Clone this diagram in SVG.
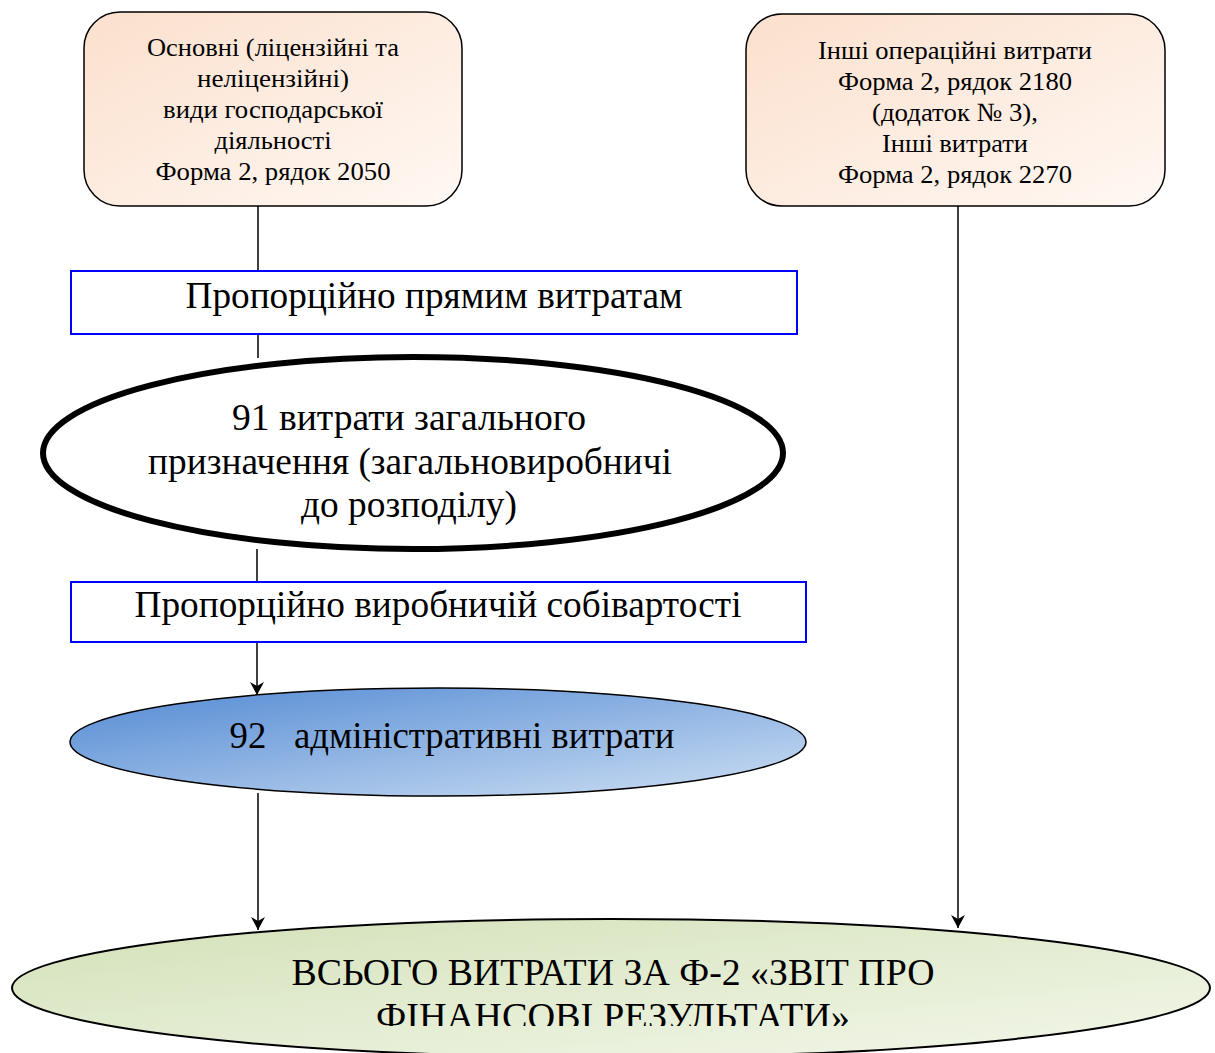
<svg xmlns="http://www.w3.org/2000/svg" width="1215" height="1053" viewBox="0 0 1215 1053">
<style>
  .t { font-family: "Liberation Serif", "Times New Roman", serif; fill: #000; text-anchor: middle; }
  .s26 { font-size: 26px; }
  .s37 { font-size: 37px; }
  .box { stroke: #000; stroke-width: 1.5; }
  .brect { fill: #fff; stroke: #0000ff; stroke-width: 2; }
  .conn { stroke: #000; stroke-width: 1.5; fill: none; }
</style>
<defs>
  <linearGradient id="peach" x1="0" y1="0" x2="1" y2="1">
    <stop offset="0" stop-color="#fbe0cd"/>
    <stop offset="1" stop-color="#fff8f3"/>
  </linearGradient>
  <linearGradient id="blue" x1="0" y1="0" x2="1" y2="1">
    <stop offset="0" stop-color="#5289d3"/>
    <stop offset="1" stop-color="#cddff3"/>
  </linearGradient>
  <linearGradient id="green" x1="0" y1="0" x2="1" y2="1">
    <stop offset="0" stop-color="#d3e1b8"/>
    <stop offset="1" stop-color="#f3f7ea"/>
  </linearGradient>
  <marker id="arr" markerWidth="14" markerHeight="14" refX="13" refY="7" orient="auto" markerUnits="userSpaceOnUse">
    <path d="M0,0 L13,7 L0,14 L4,7 Z" fill="#000"/>
  </marker>
  <clipPath id="clipBottom">
    <rect x="0" y="900" width="1215" height="126"/>
  </clipPath>
</defs>

<g id="connectors">
  <line class="conn" x1="258" y1="206" x2="258" y2="271"/>
  <line class="conn" x1="258" y1="334" x2="258" y2="358"/>
  <line class="conn" x1="257" y1="549" x2="257" y2="582"/>
  <line class="conn" x1="257" y1="642" x2="257" y2="695" marker-end="url(#arr)"/>
  <line class="conn" x1="258" y1="793" x2="258" y2="930" marker-end="url(#arr)"/>
  <line class="conn" x1="958" y1="200" x2="958" y2="928" marker-end="url(#arr)"/>
</g>

<g id="node-osnovni">
  <rect class="box" x="84" y="12" width="378" height="194" rx="36" fill="url(#peach)"/>
  <text class="t s26" x="273" y="56" textLength="252" lengthAdjust="spacingAndGlyphs">Основні (ліцензійні та</text>
  <text class="t s26" x="273" y="87" textLength="152" lengthAdjust="spacingAndGlyphs">неліцензійні)</text>
  <text class="t s26" x="273" y="118" textLength="220" lengthAdjust="spacingAndGlyphs">види господарської</text>
  <text class="t s26" x="273" y="149" textLength="117" lengthAdjust="spacingAndGlyphs">діяльності</text>
  <text class="t s26" x="273" y="180" textLength="235" lengthAdjust="spacingAndGlyphs">Форма 2, рядок 2050</text>
</g>

<g id="node-inshi">
  <rect class="box" x="746" y="14" width="419" height="192" rx="36" fill="url(#peach)"/>
  <text class="t s26" x="955" y="59" textLength="274" lengthAdjust="spacingAndGlyphs">Інші операційні витрати</text>
  <text class="t s26" x="955" y="90" textLength="234" lengthAdjust="spacingAndGlyphs">Форма 2, рядок 2180</text>
  <text class="t s26" x="955" y="121" textLength="166" lengthAdjust="spacingAndGlyphs">(додаток № 3),</text>
  <text class="t s26" x="955" y="152" textLength="146" lengthAdjust="spacingAndGlyphs">Інші витрати</text>
  <text class="t s26" x="955" y="183" textLength="234" lengthAdjust="spacingAndGlyphs">Форма 2, рядок 2270</text>
</g>

<g id="node-pryamym">
  <rect class="brect" x="71" y="271" width="726" height="63"/>
  <text class="t s37" x="434" y="308" textLength="497" lengthAdjust="spacingAndGlyphs">Пропорційно прямим витратам</text>
</g>

<g id="node-91">
  <ellipse cx="413" cy="453" rx="370" ry="96" fill="#fff" stroke="#000" stroke-width="6"/>
  <text class="t s37" x="409" y="430" textLength="354" lengthAdjust="spacingAndGlyphs">91 витрати загального</text>
  <text class="t s37" x="410" y="474" textLength="524" lengthAdjust="spacingAndGlyphs">призначення (загальновиробничі</text>
  <text class="t s37" x="409" y="517" textLength="216" lengthAdjust="spacingAndGlyphs">до розподілу)</text>
</g>

<g id="node-sobivartist">
  <rect class="brect" x="71" y="582" width="735" height="60"/>
  <text class="t s37" x="438" y="617" textLength="607" lengthAdjust="spacingAndGlyphs">Пропорційно виробничій собівартості</text>
</g>

<g id="node-92">
  <ellipse cx="438" cy="742" rx="368" ry="54" fill="url(#blue)" stroke="#000" stroke-width="1.5"/>
  <text class="t s37" x="452" y="748" style="white-space:pre" textLength="445" lengthAdjust="spacingAndGlyphs">92   адміністративні витрати</text>
</g>

<g id="node-vsogo">
  <ellipse cx="611" cy="988" rx="599" ry="69" fill="url(#green)" stroke="#000" stroke-width="2"/>
  <g clip-path="url(#clipBottom)">
    <text class="t" style="font-size:38px" x="613" y="985" textLength="643" lengthAdjust="spacingAndGlyphs">ВСЬОГО ВИТРАТИ ЗА Ф-2 «ЗВІТ ПРО</text>
    <text class="t" style="font-size:38px" x="613" y="1029" textLength="474" lengthAdjust="spacingAndGlyphs">ФІНАНСОВІ РЕЗУЛЬТАТИ»</text>
  </g>
</g>
</svg>
